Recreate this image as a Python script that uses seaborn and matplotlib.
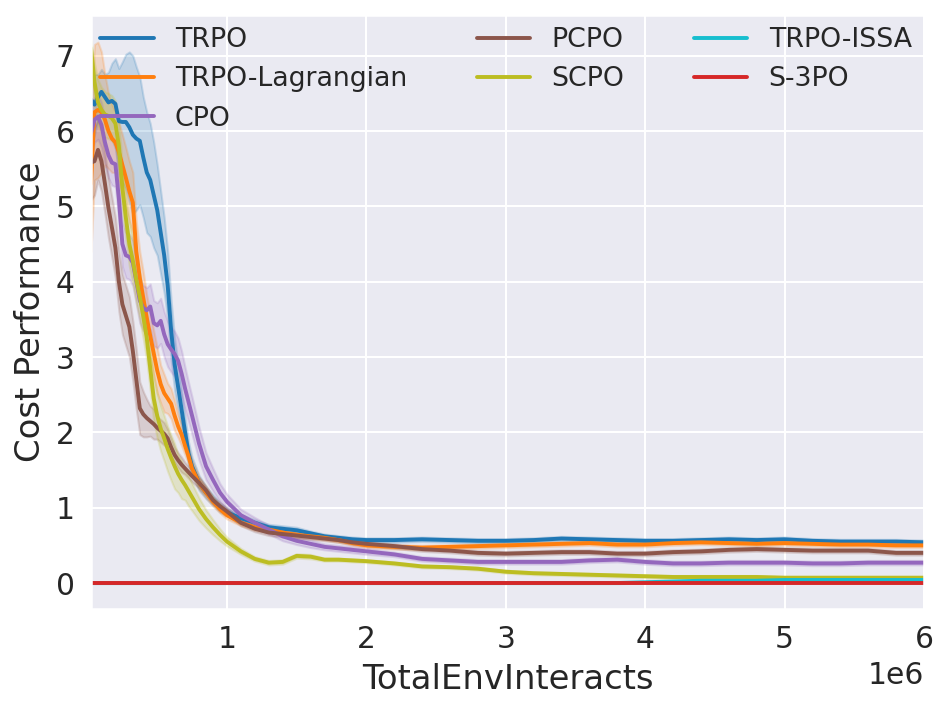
import matplotlib
matplotlib.use("Agg")
import numpy as np
import pandas as pd
import matplotlib.pyplot as plt
import seaborn as sns

# x positions, in millions of env interacts
steps = [0.025, 0.05, 0.075, 0.1, 0.125, 0.15, 0.175, 0.2, 0.225, 0.25,
         0.275, 0.3, 0.325, 0.35, 0.375, 0.4, 0.425, 0.45, 0.475, 0.5,
         0.525, 0.55, 0.575, 0.6, 0.625, 0.65, 0.675, 0.7, 0.725, 0.75,
         0.8, 0.85, 0.9, 0.95, 1.0, 1.1, 1.2, 1.3, 1.4, 1.5, 1.6, 1.7, 1.8, 1.9, 2.0,
         2.2, 2.4, 2.6, 2.8, 3.0, 3.2, 3.4, 3.6, 3.8, 4.0,
         4.2, 4.4, 4.6, 4.8, 5.0, 5.2, 5.4, 5.6, 5.8, 6.0]

# mean cost per algorithm
trpo = [6.42, 6.35, 6.45, 6.52, 6.45, 6.38, 6.40, 6.36, 6.13, 6.12,
        6.12, 6.05, 5.95, 5.90, 5.87, 5.65, 5.45, 5.35, 5.15, 4.95,
        4.65, 4.35, 3.95, 3.35, 2.90, 2.60, 2.30, 2.00, 1.72, 1.55,
        1.33, 1.20, 1.10, 1.00, 0.94, 0.86, 0.80, 0.74, 0.72, 0.70, 0.66, 0.62, 0.60, 0.58, 0.57,
        0.57, 0.58, 0.57, 0.56, 0.56, 0.57, 0.59, 0.58, 0.57, 0.56,
        0.56, 0.57, 0.58, 0.57, 0.58, 0.56, 0.55, 0.55, 0.55, 0.54]
trpo_lag = [5.30, 6.25, 6.28, 6.25, 6.15, 6.00, 5.90, 5.85, 5.72, 5.55,
            5.38, 5.20, 5.05, 4.40, 4.05, 3.78, 3.52, 3.28, 3.05, 2.82,
            2.64, 2.52, 2.45, 2.38, 2.22, 2.08, 1.97, 1.82, 1.68, 1.52,
            1.33, 1.20, 1.08, 0.98, 0.90, 0.80, 0.74, 0.71, 0.67, 0.64, 0.62, 0.60, 0.57, 0.53, 0.50,
            0.48, 0.47, 0.48, 0.49, 0.50, 0.51, 0.52, 0.53, 0.51, 0.51,
            0.53, 0.54, 0.53, 0.52, 0.53, 0.52, 0.51, 0.51, 0.50, 0.50]
cpo = [5.97, 6.15, 6.19, 6.08, 5.85, 5.68, 5.58, 5.56, 5.10, 4.50,
       4.35, 4.33, 4.25, 4.00, 3.75, 3.65, 3.62, 3.67, 3.45, 3.42,
       3.48, 3.30, 3.17, 3.10, 3.04, 2.95, 2.78, 2.58, 2.40, 2.22,
       1.85, 1.55, 1.37, 1.20, 1.08, 0.90, 0.80, 0.71, 0.62, 0.56, 0.52, 0.48, 0.46, 0.44, 0.42,
       0.38, 0.32, 0.30, 0.28, 0.28, 0.28, 0.28, 0.30, 0.31, 0.28,
       0.26, 0.26, 0.27, 0.27, 0.27, 0.26, 0.26, 0.27, 0.27, 0.27]
pcpo = [5.58, 5.60, 5.75, 5.60, 5.30, 4.98, 4.72, 4.45, 4.00, 3.70,
        3.55, 3.40, 3.08, 2.70, 2.32, 2.24, 2.19, 2.15, 2.11, 2.06,
        2.02, 1.98, 1.92, 1.80, 1.70, 1.63, 1.57, 1.52, 1.47, 1.42,
        1.33, 1.23, 1.10, 1.02, 0.95, 0.80, 0.72, 0.67, 0.65, 0.63, 0.61, 0.59, 0.57, 0.54, 0.52,
        0.49, 0.45, 0.43, 0.40, 0.39, 0.40, 0.41, 0.41, 0.39, 0.39,
        0.41, 0.42, 0.44, 0.45, 0.44, 0.43, 0.43, 0.43, 0.40, 0.40]
scpo = [7.10, 6.65, 6.38, 6.28, 6.22, 6.20, 6.17, 6.10, 5.80, 5.25,
        4.85, 4.50, 4.28, 4.02, 3.80, 3.54, 3.25, 2.85, 2.45, 2.22,
        2.05, 1.92, 1.78, 1.66, 1.55, 1.45, 1.37, 1.30, 1.22, 1.14,
        0.98, 0.85, 0.74, 0.64, 0.55, 0.42, 0.32, 0.27, 0.28, 0.36, 0.35, 0.31, 0.31, 0.30, 0.29,
        0.26, 0.22, 0.21, 0.19, 0.15, 0.13, 0.12, 0.11, 0.10, 0.09,
        0.08, 0.08, 0.08, 0.08, 0.07, 0.07, 0.07, 0.07, 0.07, 0.07]
trpo_issa = [0.0] * 54 + [0.01, 0.02, 0.03, 0.03, 0.03, 0.04, 0.04, 0.04, 0.04, 0.04, 0.04]
s3po = [0.0] * 65

# half width of the shaded band
trpo_sd = [0.6, 0.4, 0.3, 0.3, 0.3, 0.4, 0.5, 0.6, 0.7, 0.8,
           0.9, 1.0, 1.05, 0.95, 0.85, 0.8, 0.8, 0.75, 0.7, 0.6,
           0.55, 0.5, 0.45, 0.4, 0.35, 0.3, 0.25, 0.2, 0.15, 0.12,
           0.1, 0.08, 0.07, 0.06, 0.05, 0.05, 0.04, 0.04, 0.04, 0.04, 0.03, 0.03, 0.03, 0.03, 0.03,
           0.03, 0.03, 0.03, 0.03, 0.03, 0.03, 0.03, 0.03, 0.03, 0.03,
           0.03, 0.03, 0.03, 0.03, 0.03, 0.03, 0.03, 0.03, 0.03, 0.03]
trpo_lag_sd = [0.9, 0.9, 0.9, 0.8, 0.6, 0.5, 0.45, 0.4, 0.4, 0.4,
               0.4, 0.4, 0.4, 0.4, 0.35, 0.35, 0.3, 0.3, 0.3, 0.3,
               0.25, 0.25, 0.2, 0.2, 0.2, 0.15, 0.15, 0.12, 0.1, 0.1,
               0.08, 0.07, 0.06, 0.05, 0.05, 0.04, 0.04, 0.04, 0.04, 0.04, 0.03, 0.03, 0.03, 0.03, 0.03,
               0.03, 0.03, 0.03, 0.03, 0.03, 0.03, 0.03, 0.03, 0.03, 0.03,
               0.03, 0.03, 0.03, 0.03, 0.03, 0.03, 0.03, 0.03, 0.03, 0.03]
cpo_sd = [0.35, 0.3, 0.3, 0.3, 0.3, 0.3, 0.3, 0.3, 0.3, 0.3,
          0.3, 0.3, 0.3, 0.3, 0.3, 0.3, 0.3, 0.3, 0.3, 0.3,
          0.3, 0.3, 0.3, 0.3, 0.3, 0.3, 0.3, 0.28, 0.26, 0.25,
          0.22, 0.18, 0.15, 0.12, 0.1, 0.08, 0.07, 0.06, 0.06, 0.05, 0.05, 0.04, 0.04, 0.04, 0.04,
          0.03, 0.03, 0.03, 0.03, 0.03, 0.03, 0.03, 0.03, 0.03, 0.03,
          0.03, 0.03, 0.03, 0.03, 0.03, 0.03, 0.03, 0.03, 0.03, 0.03]
pcpo_sd = [0.5, 0.45, 0.4, 0.4, 0.4, 0.4, 0.4, 0.4, 0.4, 0.4,
           0.4, 0.4, 0.4, 0.4, 0.35, 0.3, 0.25, 0.2, 0.2, 0.15,
           0.15, 0.15, 0.12, 0.12, 0.1, 0.1, 0.1, 0.08, 0.08, 0.08,
           0.07, 0.06, 0.05, 0.05, 0.05, 0.04, 0.04, 0.04, 0.04, 0.04, 0.03, 0.03, 0.03, 0.03, 0.03,
           0.03, 0.03, 0.03, 0.03, 0.03, 0.03, 0.03, 0.03, 0.03, 0.03,
           0.03, 0.03, 0.03, 0.03, 0.03, 0.03, 0.03, 0.03, 0.03, 0.03]
scpo_sd = [0.1, 0.25, 0.3, 0.3, 0.3, 0.3, 0.3, 0.3, 0.3, 0.3,
           0.3, 0.3, 0.3, 0.3, 0.3, 0.3, 0.3, 0.3, 0.3, 0.3,
           0.3, 0.3, 0.3, 0.3, 0.3, 0.25, 0.25, 0.2, 0.2, 0.18,
           0.15, 0.12, 0.1, 0.08, 0.06, 0.04, 0.03, 0.03, 0.03, 0.03, 0.03, 0.02, 0.02, 0.02, 0.02,
           0.02, 0.02, 0.02, 0.02, 0.02, 0.02, 0.02, 0.02, 0.02, 0.02,
           0.02, 0.02, 0.02, 0.02, 0.02, 0.02, 0.02, 0.02, 0.02, 0.02]
trpo_issa_sd = [0.01] * 65
s3po_sd = [0.0] * 65

algos = ["TRPO", "TRPO-Lagrangian", "CPO", "PCPO", "SCPO", "TRPO-ISSA", "S-3PO"]
colors = ["tab:blue", "tab:orange", "tab:purple", "tab:brown", "tab:olive", "tab:cyan", "tab:red"]
means = [trpo, trpo_lag, cpo, pcpo, scpo, trpo_issa, s3po]
spreads = [trpo_sd, trpo_lag_sd, cpo_sd, pcpo_sd, scpo_sd, trpo_issa_sd, s3po_sd]

# long form table: low / mean / high per step so seaborn draws the band
rows = []
for name, mean, spread in zip(algos, means, spreads):
    for x, m, s in zip(steps, mean, spread):
        for v in (m - s, m, m + s):
            rows.append((x * 1e6, v, name))
df = pd.DataFrame(rows, columns=["TotalEnvInteracts", "Cost Performance", "Algo"])

sns.set_theme(style="darkgrid")
plt.rcParams["font.family"] = ["DejaVu Sans"]

fig, ax = plt.subplots(figsize=(950 / 148, 710 / 148), dpi=148)
fig.subplots_adjust(left=91 / 950, right=924 / 950, top=1 - 15 / 710, bottom=1 - 609 / 710)

sns.lineplot(data=df, x="TotalEnvInteracts", y="Cost Performance", hue="Algo",
             hue_order=algos, palette=colors, errorbar=("pi", 100),
             linewidth=1.9, ax=ax)

ax.set_xlim(0.025e6, 6e6)
ax.set_ylim(-0.345, 7.54)
ax.set_xlabel("TotalEnvInteracts", fontsize=16.5)
ax.set_ylabel("Cost Performance", fontsize=16.5)
ax.tick_params(labelsize=14.5, length=0, pad=8)
ax.xaxis.get_offset_text().set_fontsize(14.5)

sns.move_legend(ax, "upper left", bbox_to_anchor=(0.011, 0.98), ncol=3, title=None,
                frameon=False, fontsize=13, columnspacing=2.6, labelspacing=0.5,
                borderpad=0, borderaxespad=0)

fig.savefig("out.png", dpi=148)
